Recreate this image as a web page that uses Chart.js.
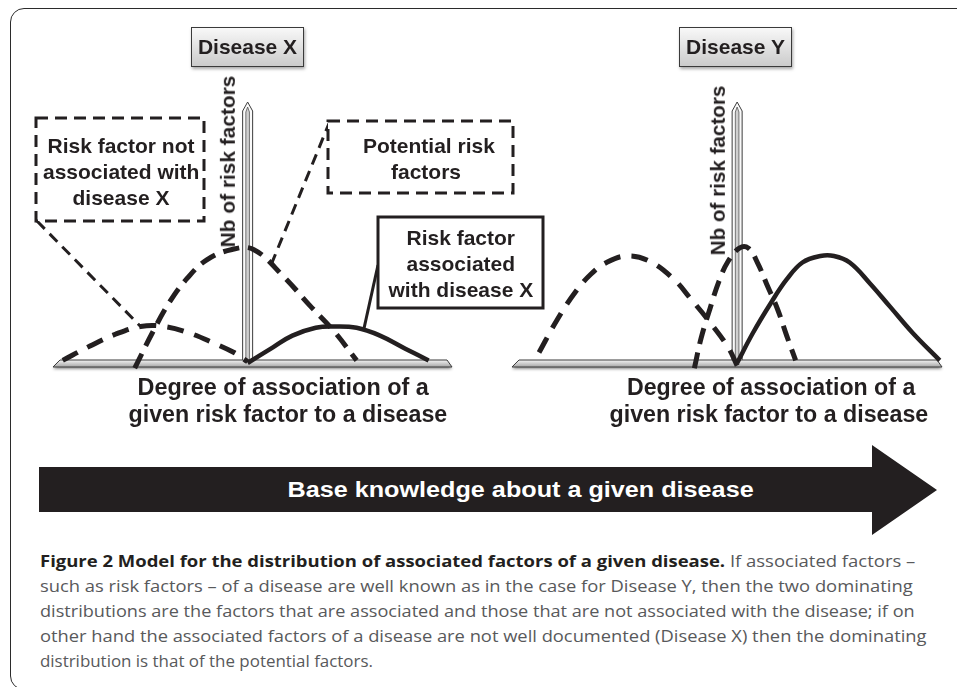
<!DOCTYPE html>
<html>
<head>
<meta charset="utf-8">
<script src="https://cdn.jsdelivr.net/npm/chart.js@4.4.1/dist/chart.umd.min.js"></script>
<style>
  html, body { margin: 0; padding: 0; background: #fff; }
  #fig { position: relative; width: 957px; height: 687px; overflow: hidden; background: #fff;
         font-family: "Liberation Sans", Arial, sans-serif; color: #231f20; }
  .frame { position: absolute; left: 10px; top: 8px; width: 1000px; height: 682px;
           border: 1.5px solid #2b2b2b; border-radius: 14px; box-sizing: border-box; }
  canvas { position: absolute; top: 0; }
  .lbl { position: absolute; white-space: nowrap; font-weight: bold; line-height: 1; }
  .tag { position: absolute; width: 113px; height: 40px; box-sizing: border-box; border: 1px solid #3a3a3a;
         background: linear-gradient(#f8f8f8, #cbcbcb); box-shadow: 1px 2px 3px rgba(0,0,0,.35);
         display: flex; align-items: center; justify-content: center; font-weight: bold; font-size: 21px; }
  .arrow { position: absolute; left: 39px; top: 445px; width: 898px; height: 90px; background: #231f20;
           clip-path: polygon(0 22px, 833px 22px, 833px 0, 898px 45px, 833px 90px, 833px 67px, 0 67px); }
  .cap { position: absolute; left: 40px; white-space: nowrap; font-family: "Open Sans", "Noto Sans", sans-serif;
         font-size: 16px; line-height: 1; color: #58595b; transform-origin: 0 50%; }
  .cap b { color: #231f20; }
</style>
</head>
<body>
<div id="fig">
  <div class="frame"></div>
  <canvas id="chartX" width="560" height="440" style="left:0"></canvas>
  <canvas id="chartY" width="457" height="440" style="left:500px"></canvas>
  <div class="tag" style="left:191px;top:27px">Disease X</div>
  <div class="tag" style="left:679px;top:27px">Disease Y</div>
  <div class="arrow"></div>
</div>
<script>
const INK = '#231f20';

// Disease X: x = degree of association, y = nb of risk factors
const xNotAssocX = [-95, -81, -68, -55, -43, -30, -17, -7, 0];
const yNotAssocX = [1, 6.5, 11, 14, 14, 11.5, 7.5, 4, 0.5];
const xPotentialX = [-58, -49, -40, -31, -21, -8, 3, 18, 32, 44, 56];
const yPotentialX = [-2, 11.5, 23.5, 32.5, 39.5, 43.5, 43.5, 33.5, 22, 12.5, 1];
const xAssocX = [0, 13, 23, 35, 44, 56, 68, 81, 93];
const yAssocX = [0, 6, 10.5, 13.5, 14, 13.5, 10.5, 5.5, 1];

// Disease Y
const xNotAssocY = [-88, -80, -72, -65, -58, -49, -39, -28, -21, -12, -4, 0];
const yNotAssocY = [4, 16.5, 27, 34, 38.5, 41, 39, 32, 25, 15.5, 6, -1];
const xPotentialY = [-19, -16, -12, -8, -4, 1, 5, 9, 13, 18, 22, 26];
const yPotentialY = [-2, 9.5, 21, 31.5, 39, 44, 44, 38.5, 30.5, 20.5, 10.5, 1];
const xAssocY = [0, 7, 15, 22, 29, 37, 43, 50, 59, 68, 78, 90];
const yAssocY = [0, 11.5, 23, 32, 38.5, 41, 41, 38.5, 30.5, 21.5, 11.5, 1];

const yAxisLabel = 'Nb of risk factors';
const xAxisLabel = ['Degree of association of a', 'given risk factor to a disease'];

function curve(xs, ys, dash) {
  return {
    data: xs.map((v, i) => ({ x: v, y: ys[i] })),
    borderColor: INK,
    borderWidth: dash ? 5 : 4.5,
    borderDash: dash || [],
    borderCapStyle: 'butt',
    pointRadius: 0,
    tension: 0.4,
    fill: false,
    clip: false
  };
}

function drawAxes(chart) {
  const { ctx, scales: { x, y } } = chart;
  const x0 = x.getPixelForValue(0), y0 = y.getPixelForValue(0);
  const l = x.getPixelForValue(x.min), r = x.getPixelForValue(x.max);
  const top = y.getPixelForValue(y.max);
  ctx.save();
  // horizontal bar
  ctx.shadowColor = 'rgba(0,0,0,0.45)';
  ctx.shadowBlur = 3;
  ctx.shadowOffsetY = 2;
  const g = ctx.createLinearGradient(0, y0 - 3, 0, y0 + 4);
  g.addColorStop(0, '#f4f4f4');
  g.addColorStop(1, '#a5a5a5');
  ctx.beginPath();
  ctx.moveTo(l + 7, y0 - 3);
  ctx.lineTo(r - 5, y0 - 3);
  ctx.lineTo(r, y0 + 4);
  ctx.lineTo(l, y0 + 4);
  ctx.closePath();
  ctx.fillStyle = g;
  ctx.fill();
  ctx.shadowColor = 'transparent';
  ctx.lineWidth = 1;
  ctx.strokeStyle = '#3c3c3c';
  ctx.stroke();
  // vertical bar with pointed top
  ctx.beginPath();
  ctx.moveTo(x0 - 5, y0 - 3);
  ctx.lineTo(x0 - 5, top + 9);
  ctx.lineTo(x0, top);
  ctx.lineTo(x0 + 5, top + 9);
  ctx.lineTo(x0 + 5, y0 - 3);
  ctx.fillStyle = '#fafafa';
  ctx.fill();
  ctx.stroke();
  ctx.beginPath();
  ctx.moveTo(x0 - 1.8, y0 - 3);
  ctx.lineTo(x0 - 1.8, top + 10);
  ctx.lineTo(x0, top + 5);
  ctx.lineTo(x0 + 1.8, top + 10);
  ctx.lineTo(x0 + 1.8, y0 - 3);
  ctx.fillStyle = '#cfcfcf';
  ctx.fill();
  ctx.lineWidth = 0.8;
  ctx.strokeStyle = '#555';
  ctx.stroke();
  ctx.restore();
}

// point a fraction t of the way between two points of a dataset
function along(chart, ds, i, t) {
  const pts = chart.getDatasetMeta(ds).data;
  const a = pts[i], b = pts[i + 1];
  return [a.x + (b.x - a.x) * t, a.y + (b.y - a.y) * t];
}

function diagram(callouts) {
  return {
    id: 'diagram',
    beforeDatasetsDraw(chart) { drawAxes(chart); },
    afterDatasetsDraw(chart) {
      const ctx = chart.ctx;
      ctx.save();
      ctx.strokeStyle = INK;
      ctx.lineWidth = 3;
      callouts.forEach(c => {
        const dash = c.dashed ? [11, 7] : [];
        ctx.setLineDash(dash);
        const [tx, ty] = along(chart, c.ds, c.i, c.t);
        ctx.beginPath();
        ctx.moveTo(c.from[0], c.from[1]);
        ctx.lineTo(tx, ty);
        ctx.stroke();
        ctx.fillStyle = '#fff';
        ctx.fillRect(c.box[0], c.box[1], c.box[2], c.box[3]);
        ctx.setLineDash(c.dashed ? [12, 7] : []);
        ctx.strokeRect(c.box[0], c.box[1], c.box[2], c.box[3]);
      });
      ctx.restore();
    }
  };
}

function makeChart(id, xMin, xMax, pad, datasets, callouts) {
  return new Chart(document.getElementById(id), {
    type: 'line',
    data: { datasets: datasets },
    options: {
      responsive: false,
      animation: false,
      events: [],
      layout: { padding: pad },
      scales: {
        x: { type: 'linear', min: xMin, max: xMax, display: false },
        y: { type: 'linear', min: 0, max: 100, display: false }
      },
      plugins: { legend: { display: false }, tooltip: { enabled: false } }
    },
    plugins: [diagram(callouts)]
  });
}

makeChart('chartX', -100, 105, { left: 53, right: 108, top: 102, bottom: 77 }, [
  curve(xNotAssocX, yNotAssocX, [17, 11]),
  curve(xPotentialX, yPotentialX, [16, 9]),
  curve(xAssocX, yAssocX, null)
], [
  { box: [36, 118, 168, 103], from: [37, 221], ds: 0, i: 3, t: 0, dashed: true },
  { box: [328, 121, 185, 72], from: [330, 121], ds: 1, i: 6, t: 0.6, dashed: true },
  { box: [378, 217, 165, 91], from: [378, 265], ds: 2, i: 5, t: 0.3, dashed: false }
]);

makeChart('chartY', -100, 91, { left: 12, right: 15, top: 102, bottom: 77 }, [
  curve(xNotAssocY, yNotAssocY, [17, 11]),
  curve(xPotentialY, yPotentialY, [16, 9]),
  curve(xAssocY, yAssocY, null)
], []);

// text, kept as real text on top of the charts
const fig = document.getElementById('fig');
function place(text, cx, cy, size, fit, rot, color) {
  const el = document.createElement('div');
  el.className = 'lbl';
  el.textContent = text;
  el.style.fontSize = size + 'px';
  if (color) el.style.color = color;
  fig.appendChild(el);
  const s = fit ? fit / el.offsetWidth : 1;
  el.style.left = (cx - el.offsetWidth / 2) + 'px';
  el.style.top = (cy - el.offsetHeight / 2) + 'px';
  el.style.transform = 'rotate(' + (rot || 0) + 'deg) scaleX(' + s + ')';
}

place(yAxisLabel, 227, 161, 21, 172, -90);
place(yAxisLabel, 717, 170, 21, 170, -90);
place(xAxisLabel[0], 283, 387, 23, 291);
place(xAxisLabel[1], 288, 414, 23, 319);
place(xAxisLabel[0], 771, 387, 23, 288);
place(xAxisLabel[1], 769, 414, 23, 319);

place('Risk factor not', 121, 145, 21);
place('associated with', 121, 171, 21);
place('disease X', 121, 197, 21);
place('Potential risk', 429, 145, 21);
place('factors', 426, 171, 21);
place('Risk factor', 461, 237, 21);
place('associated', 461, 263, 21);
place('with disease X', 461, 289, 21);

place('Base knowledge about a given disease', 520, 490, 22, 466, 0, '#fff');

const captionLines = [
  '<b>Figure 2 Model for the distribution of associated factors of a given disease.</b> If associated factors –',
  'such as risk factors – of a disease are well known as in the case for Disease Y, then the two dominating',
  'distributions are the factors that are associated and those that are not associated with the disease; if on',
  'other hand the associated factors of a disease are not well documented (Disease X) then the dominating',
  'distribution is that of the potential factors.'
];
const captionEnds = [915, 913, 915, 927, 373];
captionLines.forEach((html, i) => {
  const el = document.createElement('div');
  el.className = 'cap';
  el.innerHTML = html;
  fig.appendChild(el);
  el.style.top = (561 + 25 * i - el.offsetHeight / 2) + 'px';
  el.style.transform = 'scaleX(' + ((captionEnds[i] - 40) / el.offsetWidth) + ')';
});
</script>
</body>
</html>
